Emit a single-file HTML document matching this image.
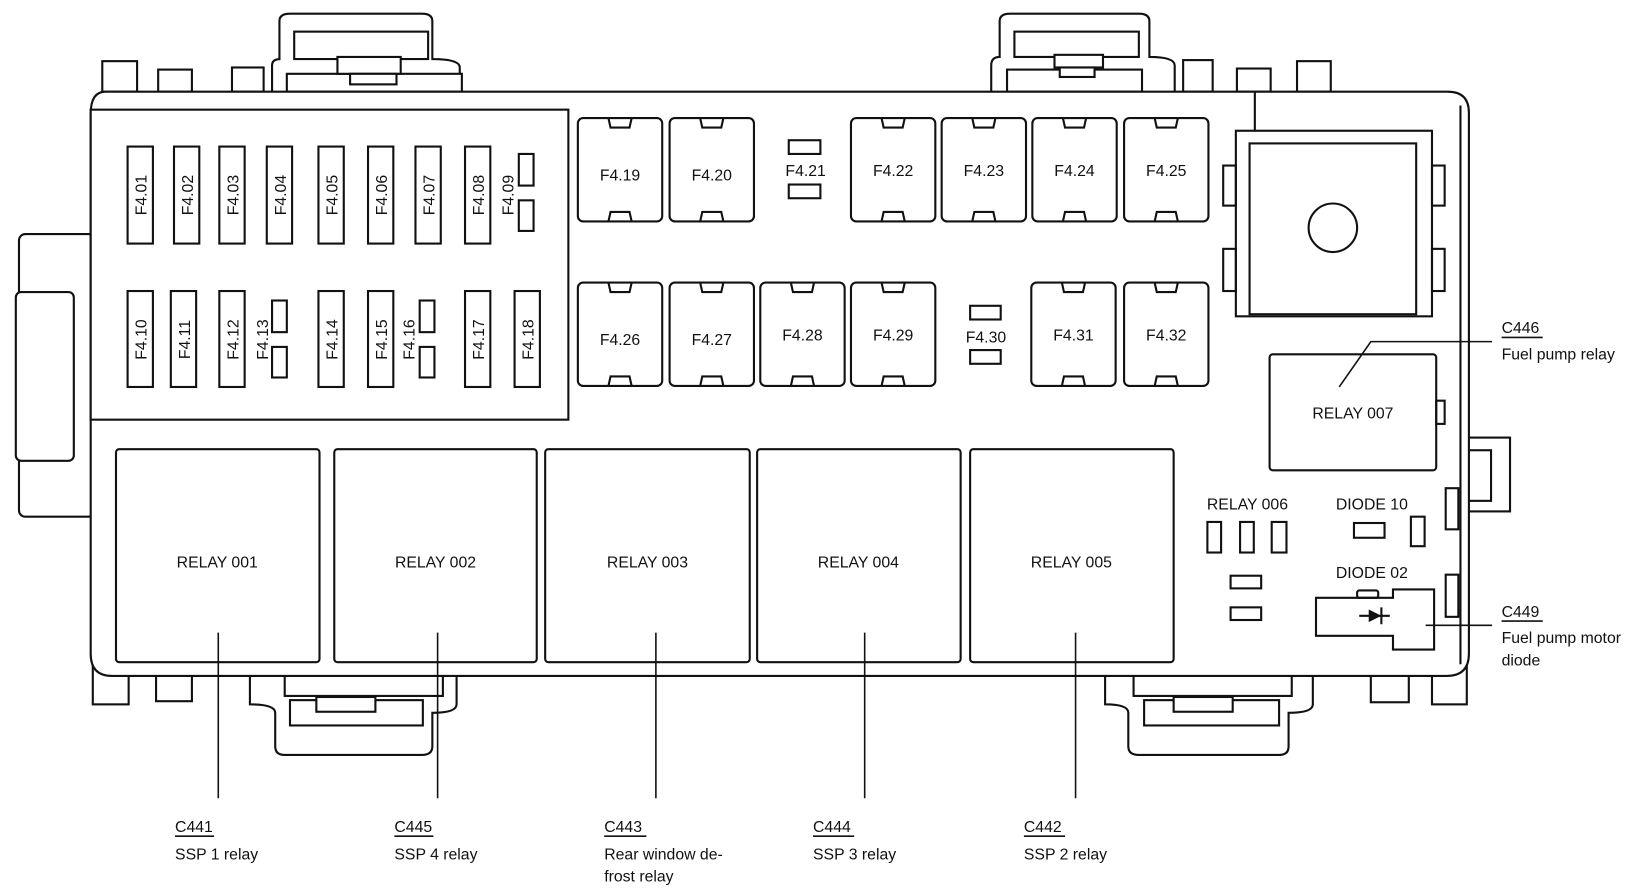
<!DOCTYPE html>
<html><head><meta charset="utf-8"><style>html,body{margin:0;padding:0;background:#fff}svg{display:block}text{font-family:"Liberation Sans",sans-serif;fill:#111}</style></head><body>
<svg width="1645" height="891" viewBox="0 0 1560 845" preserveAspectRatio="none" xmlns="http://www.w3.org/2000/svg">
<defs><g id="mf" fill="none" stroke="#111" stroke-width="2"><rect x="0" y="0" width="80" height="98" rx="5"/><path d="M29,0 L31,9 H49 L51,0 M29,98 L31,89 H49 L51,98"/></g></defs>
<g fill="#fff" stroke="#111" stroke-width="2">
<rect x="97" y="58" width="33" height="29"/><rect x="150" y="66" width="32" height="21"/><rect x="220" y="64" width="30" height="23"/>
<rect x="1122" y="57" width="28" height="30"/><rect x="1173" y="65" width="32" height="22"/><rect x="1230" y="58" width="32" height="29"/>
<path d="M258,87 V62 Q258,56 266,56 H265 V20 Q265,13 275,13 H400 Q410,13 410,20 V56 Q436,56 436,64 V87"/>
<rect x="279" y="30" width="127" height="26"/><rect x="272" y="70" width="166" height="17"/><rect x="320" y="54" width="60" height="16"/><rect x="332" y="70" width="44" height="10"/>
<path d="M940,87 V62 Q940,54 948,54 V20 Q948,13 958,13 H1080 Q1090,13 1090,20 V54 Q1114,54 1114,62 V87"/>
<rect x="962" y="30" width="118" height="24"/><rect x="955" y="66" width="128" height="21"/><rect x="1000" y="52" width="46" height="12"/><rect x="1005" y="64" width="33" height="9"/>
<rect x="88" y="630" width="34" height="38"/><rect x="148" y="630" width="34" height="35"/><rect x="1300" y="630" width="36" height="36"/><rect x="1358" y="630" width="33" height="38"/>
<path d="M237,630 V668 Q261,668 261,676 V708 Q261,716 270,716 H400 Q410,716 410,708 V676 Q433,676 433,668 V630"/>
<rect x="275" y="664" width="126" height="24"/><rect x="300" y="661" width="56" height="14"/><rect x="270" y="640" width="150" height="20"/>
<path d="M1048,630 V668 Q1070,668 1070,676 V708 Q1070,716 1080,716 H1213 Q1222,716 1222,708 V676 Q1245,676 1245,668 V630"/>
<rect x="1085" y="664" width="128" height="24"/><rect x="1113" y="661" width="56" height="14"/><rect x="1075" y="640" width="150" height="20"/>
<rect x="18" y="222" width="72" height="268" rx="6"/><rect x="15" y="277" width="55" height="160" rx="5"/>
<rect x="1386" y="415" width="46" height="70"/><rect x="1386" y="427" width="28" height="48"/>
<path d="M100,87 H1373 Q1393,87 1393,107 V620 Q1393,641 1372,641 H106 Q86,641 86,620 V108 Q86,87 100,87 Z"/>
<line x1="1385" y1="100" x2="1385" y2="630"/>
<rect x="86" y="104" width="453" height="294"/>
</g>
<g fill="none" stroke="#111" stroke-width="2">
<rect x="121" y="139" width="24" height="92"/><rect x="165" y="139" width="24" height="92"/><rect x="208" y="139" width="24" height="92"/><rect x="253" y="139" width="24" height="92"/><rect x="302" y="139" width="24" height="92"/><rect x="349" y="139" width="24" height="92"/><rect x="394" y="139" width="24" height="92"/><rect x="441" y="139" width="24" height="92"/>
<rect x="492" y="146" width="14" height="30"/><rect x="492" y="190" width="14" height="29"/>
<rect x="121" y="276" width="24" height="91"/><rect x="162" y="276" width="24" height="91"/><rect x="208" y="276" width="24" height="91"/><rect x="302" y="276" width="24" height="91"/><rect x="349" y="276" width="24" height="91"/><rect x="441" y="276" width="24" height="91"/><rect x="488" y="276" width="24" height="91"/>
<rect x="258" y="285" width="14" height="30"/><rect x="258" y="329" width="14" height="29"/><rect x="398" y="285" width="14" height="30"/><rect x="398" y="329" width="14" height="29"/>
<use href="#mf" x="548" y="112"/><use href="#mf" x="635" y="112"/><use href="#mf" x="807" y="112"/><use href="#mf" x="893" y="112"/><use href="#mf" x="979" y="112"/><use href="#mf" x="1066" y="112"/>
<use href="#mf" x="548" y="268"/><use href="#mf" x="635" y="268"/><use href="#mf" x="721" y="268"/><use href="#mf" x="807" y="268"/><use href="#mf" x="978" y="268"/><use href="#mf" x="1066" y="268"/>
<rect x="748" y="133" width="30" height="13"/><rect x="748" y="175" width="30" height="13"/><rect x="920" y="290" width="29" height="13"/><rect x="920" y="332" width="29" height="13"/>
<rect x="1172" y="124" width="186" height="176"/><rect x="1185" y="136" width="158" height="162"/><circle cx="1264" cy="216" r="23"/>
<rect x="1160" y="157" width="12" height="38"/><rect x="1160" y="236" width="12" height="40"/><rect x="1358" y="157" width="12" height="38"/><rect x="1358" y="236" width="12" height="40"/>
<line x1="1190" y1="87" x2="1190" y2="124"/>
<rect x="1204" y="336" width="158" height="110" rx="3"/><rect x="1362" y="380" width="8" height="22"/>
<rect x="110" y="426" width="193" height="202" rx="3"/><rect x="317" y="426" width="192" height="202" rx="3"/><rect x="517" y="426" width="194" height="202" rx="3"/><rect x="718" y="426" width="193" height="202" rx="3"/><rect x="920" y="426" width="193" height="202" rx="3"/>
<rect x="1145" y="495" width="13" height="29"/><rect x="1176" y="495" width="13" height="29"/><rect x="1206" y="495" width="14" height="29"/>
<rect x="1167" y="546" width="29" height="12"/><rect x="1167" y="576" width="29" height="12"/>
<rect x="1284" y="496" width="29" height="14"/><rect x="1338" y="490" width="13" height="28"/>
<rect x="1371" y="463" width="12" height="39"/><rect x="1371" y="545" width="12" height="40"/>
<path d="M1248,567 H1321 V559 H1360 V616 H1321 V603 H1248 Z"/><rect x="1287" y="560" width="20" height="7" rx="2"/>
<line x1="1289" y1="584" x2="1318" y2="584"/><line x1="1310" y1="576" x2="1310" y2="592"/>
<g stroke-width="1.5"><line x1="207" y1="600" x2="207" y2="757"/><line x1="415" y1="600" x2="415" y2="757"/><line x1="622" y1="600" x2="622" y2="757"/><line x1="820" y1="600" x2="820" y2="757"/><line x1="1020" y1="600" x2="1020" y2="757"/>
<path d="M1270,367 L1300,324 H1415"/><line x1="1352" y1="593" x2="1415" y2="593"/>
<line x1="166" y1="793" x2="203" y2="793"/><line x1="374" y1="793" x2="411" y2="793"/><line x1="573" y1="793" x2="613" y2="793"/><line x1="771" y1="793" x2="810" y2="793"/><line x1="971" y1="793" x2="1010" y2="793"/>
<line x1="1424" y1="320" x2="1463" y2="320"/><line x1="1424" y1="589" x2="1463" y2="589"/></g>
</g>
<path d="M1298,578 L1310,584 L1298,590 Z" fill="#111"/>
<g font-size="15">
<g text-anchor="middle">
<text transform="translate(139,185) rotate(-90)">F4.01</text><text transform="translate(183,185) rotate(-90)">F4.02</text><text transform="translate(226,185) rotate(-90)">F4.03</text><text transform="translate(271,185) rotate(-90)">F4.04</text><text transform="translate(320,185) rotate(-90)">F4.05</text><text transform="translate(367,185) rotate(-90)">F4.06</text><text transform="translate(412,185) rotate(-90)">F4.07</text><text transform="translate(459,185) rotate(-90)">F4.08</text><text transform="translate(487,185) rotate(-90)">F4.09</text>
<text transform="translate(139,322) rotate(-90)">F4.10</text><text transform="translate(180,322) rotate(-90)">F4.11</text><text transform="translate(226,322) rotate(-90)">F4.12</text><text transform="translate(254,322) rotate(-90)">F4.13</text><text transform="translate(320,322) rotate(-90)">F4.14</text><text transform="translate(367,322) rotate(-90)">F4.15</text><text transform="translate(393,322) rotate(-90)">F4.16</text><text transform="translate(459,322) rotate(-90)">F4.17</text><text transform="translate(506,322) rotate(-90)">F4.18</text>
<text x="588" y="171">F4.19</text><text x="675" y="171">F4.20</text><text x="764" y="167">F4.21</text><text x="847" y="167">F4.22</text><text x="933" y="167">F4.23</text><text x="1019" y="167">F4.24</text><text x="1106" y="167">F4.25</text>
<text x="588" y="327">F4.26</text><text x="675" y="327">F4.27</text><text x="761" y="323">F4.28</text><text x="847" y="323">F4.29</text><text x="935" y="325">F4.30</text><text x="1018" y="323">F4.31</text><text x="1106" y="323">F4.32</text>
<text x="206" y="538">RELAY 001</text><text x="413" y="538">RELAY 002</text><text x="614" y="538">RELAY 003</text><text x="814" y="538">RELAY 004</text><text x="1016" y="538">RELAY 005</text>
<text x="1283" y="397">RELAY 007</text><text x="1183" y="483">RELAY 006</text><text x="1301" y="483">DIODE 10</text><text x="1301" y="548">DIODE 02</text>
</g>
<text x="166" y="789">C441</text><text x="166" y="815">SSP 1 relay</text>
<text x="374" y="789">C445</text><text x="374" y="815">SSP 4 relay</text>
<text x="573" y="789">C443</text><text x="573" y="815">Rear window de-</text><text x="573" y="836">frost relay</text>
<text x="771" y="789">C444</text><text x="771" y="815">SSP 3 relay</text>
<text x="971" y="789">C442</text><text x="971" y="815">SSP 2 relay</text>
<text x="1424" y="316">C446</text><text x="1424" y="341">Fuel pump relay</text>
<text x="1424" y="585">C449</text><text x="1424" y="610">Fuel pump motor</text><text x="1424" y="631">diode</text>
</g>
</svg>
</body></html>
